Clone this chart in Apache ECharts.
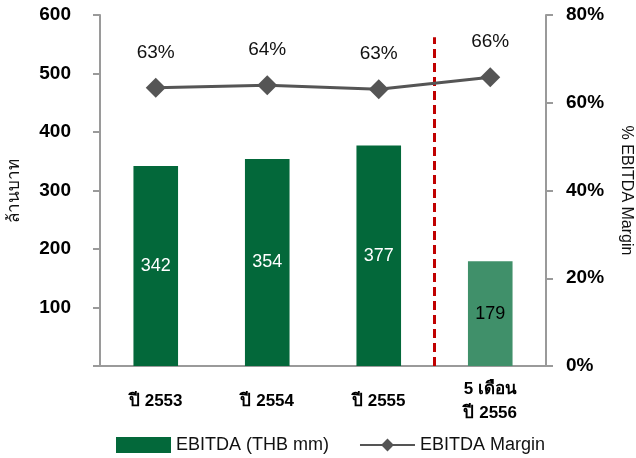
<!DOCTYPE html>
<html>
<head>
<meta charset="utf-8">
<script src="https://cdn.jsdelivr.net/npm/echarts@6/dist/echarts.min.js"></script>
<style>
  html, body { margin: 0; padding: 0; background: #fff; }
  #chart { width: 636px; height: 458px; }
</style>
</head>
<body>
<div id="chart"></div>
<script>
const categories = ['ปี 2553', 'ปี 2554', 'ปี 2555', '5 เดือน\nปี 2556'];
const ebitda = [342, 354, 377, 179];
const margin = [63.4, 64.0, 63.1, 65.8];
// boundary between actual years and the 5-month period (position on a 0..4 scale)
const dividerAt = 3;
const dividerTop = 562;

const darkGreen = '#03683a';
const lightGreen = '#40906a';
const axisGray = '#9a9a9a';
const font = 'Liberation Sans, Arial, sans-serif';

const chart = echarts.init(document.getElementById('chart'));

const option = {
  animation: false,
  textStyle: { fontFamily: font },
  grid: { left: 100, right: 90, top: 15, bottom: 92, outerBoundsMode: 'none', containLabel: false },
  legend: {
    top: 431,
    left: 111,
    itemGap: 30,
    itemWidth: 55,
    itemHeight: 16,
    textStyle: { fontSize: 18, color: '#111', fontFamily: font },
    data: [
      { name: 'EBITDA (THB mm)', icon: 'rect', itemStyle: { color: darkGreen } },
      { name: 'EBITDA Margin' },
    ],
  },
  xAxis: [
    {
      type: 'category',
      data: categories,
      axisLine: { lineStyle: { color: axisGray, width: 2 } },
      axisTick: { length: 6, lineStyle: { color: axisGray, width: 2 } },
      axisLabel: {
        color: '#000',
        fontWeight: 'bold',
        fontSize: 17,
        margin: 35,
        lineHeight: 24,
        verticalAlign: 'middle',
      },
    },
    {
      type: 'value',
      min: 0,
      max: 4,
      show: false,
    },
  ],
  yAxis: [
    {
      type: 'value',
      min: 0,
      max: 600,
      interval: 100,
      name: 'ล้านบาท',
      nameLocation: 'middle',
      nameGap: 77,
      nameTextStyle: { fontSize: 17, color: '#111' },
      splitLine: { show: false },
      axisLine: { show: true, lineStyle: { color: axisGray, width: 2 } },
      axisTick: { show: true, length: 7, lineStyle: { color: axisGray, width: 2 } },
      axisLabel: {
        color: '#000',
        fontWeight: 'bold',
        fontSize: 19,
        margin: 29,
        formatter: (v) => (v === 0 ? '' : v),
      },
    },
    {
      type: 'value',
      min: 0,
      max: 80,
      interval: 20,
      position: 'right',
      name: '% EBITDA Margin',
      nameLocation: 'middle',
      nameRotate: -90,
      nameGap: 72,
      nameTextStyle: { fontSize: 16, color: '#111' },
      splitLine: { show: false },
      axisLine: { show: true, lineStyle: { color: axisGray, width: 2 } },
      axisTick: { show: true, length: 7, lineStyle: { color: axisGray, width: 2 } },
      axisLabel: {
        color: '#000',
        fontWeight: 'bold',
        fontSize: 19,
        margin: 20,
        formatter: '{value}%',
      },
    },
  ],
  series: [
    {
      name: 'EBITDA (THB mm)',
      type: 'bar',
      barWidth: '40%',
      data: ebitda.map((v, i) => ({
        value: v,
        itemStyle: { color: i === 3 ? lightGreen : darkGreen },
        label: { color: i === 3 ? '#000' : '#fff' },
      })),
      label: { show: true, position: 'inside', fontSize: 18 },
    },
    {
      name: 'divider',
      type: 'line',
      xAxisIndex: 1,
      yAxisIndex: 0,
      data: [[dividerAt, 0], [dividerAt, dividerTop]],
      symbol: 'none',
      silent: true,
      lineStyle: { color: '#c00000', type: [9, 5], width: 3 },
    },
    {
      name: 'EBITDA Margin',
      type: 'line',
      yAxisIndex: 1,
      data: margin,
      symbol: 'diamond',
      symbolSize: 20,
      lineStyle: { color: '#555', width: 3 },
      itemStyle: { color: '#555' },
      label: {
        show: true,
        position: 'top',
        distance: 16,
        fontSize: 19,
        color: '#111',
        formatter: (p) => Math.round(p.value) + '%',
      },
    },
  ],
};

chart.setOption(option);
</script>
</body>
</html>
